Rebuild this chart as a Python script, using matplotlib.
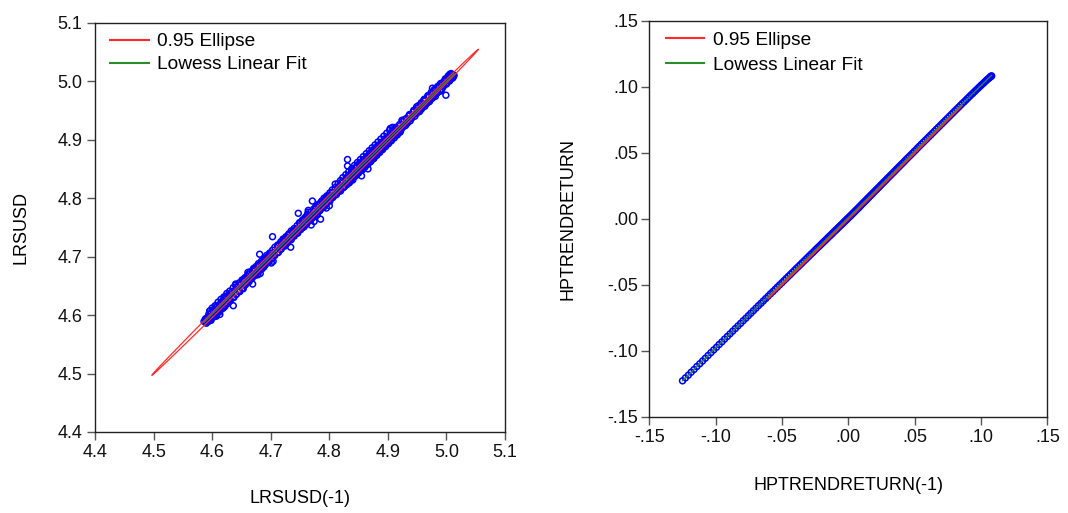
import numpy as np
import matplotlib
matplotlib.use("Agg")
import matplotlib.pyplot as plt
from matplotlib.ticker import FixedLocator, FuncFormatter

plt.rcParams['font.family'] = ['Liberation Sans', 'DejaVu Sans']

# ---------------- data ----------------
# LRSUSD time series (scatter: LRSUSD vs LRSUSD(-1))
lrsusd = [
    4.600, 4.596, 4.607, 4.598, 4.591, 4.588, 4.592, 4.595, 4.590, 4.586, 4.589, 4.594, 4.601, 4.598, 4.604,
    4.610, 4.606, 4.613, 4.601, 4.608, 4.615, 4.619, 4.612, 4.618, 4.624, 4.621, 4.628, 4.625, 4.631, 4.636,
    4.616, 4.622, 4.630, 4.627, 4.634, 4.640, 4.653, 4.645, 4.641, 4.648, 4.652, 4.658, 4.655, 4.661, 4.673,
    4.678, 4.669, 4.653, 4.660, 4.666, 4.663, 4.670, 4.675, 4.672, 4.679, 4.684, 4.681, 4.704, 4.692, 4.688,
    4.682, 4.671, 4.680, 4.686, 4.690, 4.694, 4.698, 4.701, 4.689, 4.695, 4.700, 4.706, 4.703, 4.734, 4.716,
    4.712, 4.718, 4.722, 4.726, 4.721, 4.728, 4.733, 4.730, 4.737, 4.741, 4.738, 4.744, 4.747, 4.774, 4.760,
    4.755, 4.750, 4.757, 4.764, 4.779, 4.771, 4.766, 4.769, 4.754, 4.762, 4.771, 4.795, 4.783, 4.778, 4.785,
    4.764, 4.776, 4.782, 4.788, 4.791, 4.797, 4.802, 4.800, 4.787, 4.794, 4.799, 4.805, 4.810, 4.824, 4.818,
    4.822, 4.828, 4.831, 4.866, 4.850, 4.846, 4.840, 4.831, 4.855, 4.848, 4.842, 4.839, 4.832, 4.838, 4.844,
    4.852, 4.855, 4.838, 4.847, 4.853, 4.858, 4.861, 4.857, 4.864, 4.868, 4.865, 4.870, 4.874, 4.871, 4.877,
    4.870, 4.862, 4.856, 4.849, 4.845, 4.851, 4.859, 4.866, 4.872, 4.880, 4.876, 4.883, 4.879, 4.886, 4.881,
    4.875, 4.867, 4.873, 4.879, 4.882, 4.878, 4.885, 4.888, 4.884, 4.890, 4.893, 4.889, 4.895, 4.898, 4.894,
    4.900, 4.904, 4.919, 4.912, 4.908, 4.915, 4.918, 4.913, 4.921, 4.924, 4.933, 4.928, 4.925, 4.931, 4.936,
    4.940, 4.937, 4.943, 4.947, 4.944, 4.950, 4.953, 4.949, 4.956, 4.960, 4.957, 4.963, 4.966, 4.962, 4.969,
    4.972, 4.968, 4.975, 4.978, 4.974, 4.981, 4.984, 4.980, 4.986, 4.989, 4.985, 4.991, 4.994, 4.990, 4.996,
    4.999, 4.976, 4.988, 4.993, 4.997, 5.001, 4.998, 5.004, 5.007, 5.003, 5.009, 5.011, 5.006, 5.012, 5.008,
    5.013, 5.010, 5.005, 5.000, 4.995, 4.992, 4.986, 4.990, 4.983, 4.979, 4.985, 4.981, 4.974, 4.970, 4.976,
    4.971, 4.965, 4.961, 4.967, 4.963, 4.957, 4.952, 4.958, 4.954, 4.948, 4.945, 4.950, 4.946, 4.940, 4.936,
    4.941, 4.938, 4.932, 4.928, 4.934, 4.930, 4.924, 4.920, 4.926, 4.922, 4.916, 4.912, 4.918, 4.914, 4.908,
    4.904, 4.910, 4.906, 4.900, 4.896, 4.902, 4.898, 4.892, 4.888, 4.894, 4.890, 4.884, 4.880, 4.886, 4.882,
    4.876, 4.872, 4.878, 4.874, 4.868, 4.864, 4.870, 4.866, 4.860, 4.856, 4.862, 4.858, 4.852, 4.848, 4.854,
    4.850, 4.844, 4.840, 4.846, 4.842, 4.836, 4.830, 4.834, 4.826, 4.820, 4.815, 4.819, 4.812, 4.806, 4.801,
    4.795, 4.790, 4.784, 4.779, 4.773, 4.768, 4.762, 4.757, 4.751, 4.746, 4.740, 4.735, 4.729, 4.724, 4.718,
    4.713, 4.707, 4.702, 4.696, 4.690, 4.685, 4.679, 4.674, 4.668, 4.663, 4.657, 4.652, 4.646, 4.641, 4.635,
    4.630, 4.624, 4.619, 4.613, 4.608, 4.603, 4.597, 4.593, 4.589, 4.592, 4.596, 4.607, 4.600, 4.612, 4.605,
    4.616, 4.610, 4.622, 4.615, 4.627, 4.620, 4.631, 4.625, 4.637, 4.630, 4.641, 4.636, 4.647, 4.640, 4.651,
    4.646, 4.655, 4.651, 4.660, 4.656, 4.664, 4.661, 4.669, 4.665, 4.674, 4.670, 4.678, 4.675, 4.683, 4.679,
    4.688, 4.684, 4.692, 4.689, 4.697, 4.693, 4.702, 4.698, 4.706, 4.703, 4.711, 4.707, 4.716, 4.712, 4.720,
    4.717, 4.725, 4.721, 4.730, 4.726, 4.734, 4.731, 4.739, 4.735, 4.744, 4.740, 4.748, 4.745, 4.753, 4.749,
    4.758, 4.754, 4.762, 4.759, 4.767, 4.763, 4.772, 4.768, 4.776, 4.773, 4.781, 4.777, 4.786, 4.782, 4.790,
    4.787, 4.795, 4.791, 4.800, 4.796, 4.804, 4.801, 4.809, 4.805, 4.814, 4.810, 4.818, 4.815, 4.825, 4.819,
    4.830, 4.823, 4.835, 4.828, 4.840, 4.833, 4.845, 4.838, 4.850, 4.843, 4.856, 4.848, 4.861, 4.853, 4.866,
    4.858, 4.871, 4.863, 4.876, 4.868, 4.881, 4.873, 4.886, 4.878, 4.891, 4.883, 4.896, 4.888, 4.901, 4.893,
    4.906, 4.898, 4.911, 4.903, 4.916, 4.908, 4.921, 4.913,
]

# HPTRENDRETURN time series (scatter: HPTRENDRETURN vs HPTRENDRETURN(-1))
hptrend = [
    -0.1250, -0.1228, -0.1206, -0.1185, -0.1163, -0.1142, -0.1120, -0.1099, -0.1078, -0.1057,
    -0.1036, -0.1015, -0.0994, -0.0974, -0.0953, -0.0933, -0.0912, -0.0892, -0.0872, -0.0852,
    -0.0832, -0.0812, -0.0793, -0.0773, -0.0754, -0.0735, -0.0716, -0.0697, -0.0678, -0.0659,
    -0.0641, -0.0623, -0.0605, -0.0587, -0.0569, -0.0552, -0.0535, -0.0518, -0.0501, -0.0485,
    -0.0469, -0.0453, -0.0437, -0.0422, -0.0407, -0.0392, -0.0377, -0.0363, -0.0349, -0.0335,
    -0.0321, -0.0308, -0.0295, -0.0282, -0.0269, -0.0257, -0.0245, -0.0233, -0.0221, -0.0210,
    -0.0199, -0.0188, -0.0177, -0.0167, -0.0157, -0.0147, -0.0137, -0.0128, -0.0119, -0.0110,
    -0.0101, -0.0092, -0.0084, -0.0076, -0.0068, -0.0060, -0.0052, -0.0045, -0.0038, -0.0031,
    -0.0024, -0.0017, -0.0010, -0.0004, 0.0003, 0.0009, 0.0015, 0.0021, 0.0027, 0.0033,
    0.0039, 0.0045, 0.0051, 0.0057, 0.0063, 0.0069, 0.0075, 0.0081, 0.0087, 0.0093,
    0.0100, 0.0107, 0.0114, 0.0121, 0.0128, 0.0135, 0.0142, 0.0150, 0.0158, 0.0166,
    0.0174, 0.0182, 0.0190, 0.0199, 0.0208, 0.0217, 0.0226, 0.0235, 0.0244, 0.0254,
    0.0264, 0.0274, 0.0284, 0.0294, 0.0305, 0.0316, 0.0327, 0.0338, 0.0349, 0.0360,
    0.0372, 0.0384, 0.0396, 0.0408, 0.0420, 0.0432, 0.0445, 0.0458, 0.0471, 0.0484,
    0.0497, 0.0510, 0.0523, 0.0537, 0.0551, 0.0565, 0.0579, 0.0593, 0.0607, 0.0621,
    0.0635, 0.0649, 0.0663, 0.0677, 0.0691, 0.0705, 0.0719, 0.0733, 0.0747, 0.0761,
    0.0775, 0.0789, 0.0803, 0.0817, 0.0831, 0.0845, 0.0859, 0.0873, 0.0886, 0.0899,
    0.0912, 0.0925, 0.0938, 0.0950, 0.0962, 0.0974, 0.0985, 0.0996, 0.1006, 0.1016,
    0.1025, 0.1034, 0.1042, 0.1050, 0.1057, 0.1063, 0.1068, 0.1073, 0.1077, 0.1080,
    0.1082,
]

# 0.95 ellipse statistics: mean x, mean y, sd x, sd y, correlation
ellipse_left = [4.7757, 4.7757, 0.1139, 0.1139, 0.99979]
ellipse_right = [0.0126, 0.0126, 0.0298, 0.0298, 0.99995]

left_ticks = [4.4, 4.5, 4.6, 4.7, 4.8, 4.9, 5.0, 5.1]
right_ticks = [-0.15, -0.10, -0.05, 0.00, 0.05, 0.10, 0.15]

legend_labels = ["0.95 Ellipse", "Lowess Linear Fit"]


# ---------------- helpers ----------------
def ellipse_curve(stats, chi2=5.991, n=721):
    mx, my, sx, sy, r = stats
    cov = np.array([[sx * sx, r * sx * sy], [r * sx * sy, sy * sy]])
    vals, vecs = np.linalg.eigh(cov)
    t = np.linspace(0, 2 * np.pi, n)
    circ = np.vstack([np.cos(t), np.sin(t)])
    pts = vecs @ (np.sqrt(chi2 * vals)[:, None] * circ)
    return pts[0] + mx, pts[1] + my


def lowess(x, y, frac=0.3):
    x = np.asarray(x)
    y = np.asarray(y)
    order = np.argsort(x)
    xs, ys = x[order], y[order]
    n = len(xs)
    r = max(int(np.ceil(frac * n)), 3)
    fit = np.empty(n)
    for i in range(n):
        d = np.abs(xs - xs[i])
        h = np.sort(d)[r - 1]
        if h <= 0:
            h = 1e-12
        w = np.clip(d / h, 0, 1)
        w = (1 - w ** 3) ** 3
        sw = w.sum()
        xm = (w * xs).sum() / sw
        ym = (w * ys).sum() / sw
        sxx = (w * (xs - xm) ** 2).sum()
        b = (w * (xs - xm) * (ys - ym)).sum() / sxx if sxx > 0 else 0.0
        fit[i] = ym + b * (xs[i] - xm)
    return xs, fit


def style_axes(ax, ticks, fmt, ypad, xpad):
    for s in ax.spines.values():
        s.set_color('#222222')
        s.set_linewidth(1.0)
    ax.xaxis.set_major_locator(FixedLocator(ticks))
    ax.yaxis.set_major_locator(FixedLocator(ticks))
    ax.xaxis.set_major_formatter(FuncFormatter(fmt))
    ax.yaxis.set_major_formatter(FuncFormatter(fmt))
    ax.set_xlim(ticks[0], ticks[-1])
    ax.set_ylim(ticks[0], ticks[-1])
    ax.tick_params(axis='both', direction='out', length=5.5, width=1.0,
                   color='#555555', labelsize=13, labelcolor='#111111',
                   top=False, right=False)
    ax.tick_params(axis='y', pad=ypad)
    ax.tick_params(axis='x', pad=xpad)


def add_legend(ax, anchor, spacing):
    leg = ax.legend(loc='upper left', bbox_to_anchor=anchor, frameon=False, fontsize=13.8,
                    handlelength=2.0, handletextpad=0.45, labelspacing=spacing,
                    borderpad=0, borderaxespad=0)
    for ln in leg.get_lines():
        ln.set_linewidth(1.5)
    return leg


RED = '#ff2a2a'
GREEN = '#2a8f2a'
BLUE = '#0000ff'

fig = plt.figure(figsize=(10.68, 5.13), dpi=100)
axL = fig.add_axes([0.0890, 0.1579, 0.3839, 0.7979])
axR = fig.add_axes([0.6080, 0.1877, 0.3727, 0.7719])

# ---- left panel ----
s = np.array(lrsusd)
xL, yL = s[:-1], s[1:]
axL.scatter(xL, yL, s=18, facecolors='none', edgecolors=BLUE, linewidths=1.1, zorder=2)
ex, ey = ellipse_curve(ellipse_left)
axL.plot(ex, ey, color=RED, lw=0.9, zorder=3, label=legend_labels[0])
lx, ly = lowess(xL, yL)
axL.plot(lx, ly, color=GREEN, lw=0.9, zorder=4, label=legend_labels[1])
style_axes(axL, left_ticks, lambda v, p: f"{v:.1f}", 3.5, 3.0)
axL.set_xlabel("LRSUSD(-1)", fontsize=13, labelpad=21)
axL.set_ylabel("LRSUSD", fontsize=13, labelpad=20)
add_legend(axL, (0.037, 0.975), 0.29)

# ---- right panel ----
h = np.array(hptrend)
xR, yR = h[:-1], h[1:]
axR.scatter(xR, yR, s=18, facecolors='none', edgecolors=BLUE, linewidths=1.1, zorder=2)
ex, ey = ellipse_curve(ellipse_right)
axR.plot(ex, ey, color=RED, lw=0.9, zorder=3, label=legend_labels[0])
lx, ly = lowess(xR, yR)
axR.plot(lx, ly, color=GREEN, lw=0.9, zorder=4, label=legend_labels[1])
style_axes(axR, right_ticks, lambda v, p: f"{v:.2f}".replace("0.", "."), 2.5, 3.0)
axR.set_xlabel("HPTRENDRETURN(-1)", fontsize=13, labelpad=23)
axR.set_ylabel("HPTRENDRETURN", fontsize=13, labelpad=22)
add_legend(axR, (0.042, 0.973), 0.39)

fig.savefig("out.png", dpi=100)
